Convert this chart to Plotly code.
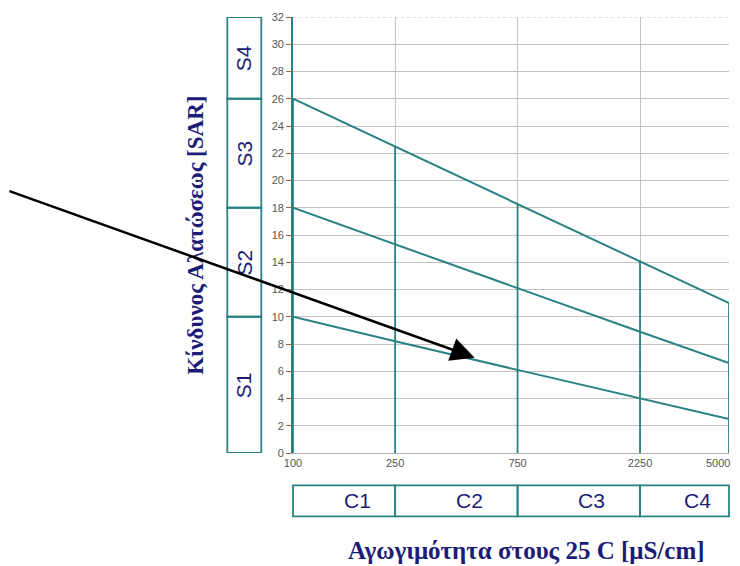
import numpy as np
import plotly.graph_objects as go

# ---- data ----
conductivity = [100, 250, 750, 2250, 5000]          # x tick values (log axis)
x_tick_labels = ["100", "250", "750", "2250", "5000"]
sar_upper = [26.0, 22.5, 18.3, 14.1, 11.0]            # S3/S4 boundary
sar_middle = [18.0, 15.3, 12.1, 8.9, 6.6]             # S2/S3 boundary
sar_lower = [10.0, 8.2, 6.1, 4.0, 2.5]                # S1/S2 boundary
s_classes = ["S1", "S2", "S3", "S4"]
s_bounds = [0, 10, 18, 26, 32]
c_classes = ["C1", "C2", "C3", "C4"]
y_title = "Κίνδυνος Αλατώσεως [SAR]"
x_title = "Αγωγιμότητα στους 25 C [μS/cm]"
arrow_head = (510, 7.0)

TEAL = "#2a8282"
NAVY = "#1c1c78"
GRID = "#c4c4c4"
TICKFONT = dict(family="Liberation Sans, Arial", size=11, color="#555555")

fig = go.Figure()

for xv, top in zip(conductivity, sar_upper):
    fig.add_trace(go.Scatter(x=[xv, xv], y=[0, top], mode="lines",
                             line=dict(color=TEAL, width=1.8), hoverinfo="skip"))

for series in (sar_upper, sar_middle, sar_lower):
    fig.add_trace(go.Scatter(x=conductivity, y=series, mode="lines",
                             line=dict(color=TEAL, width=2), hoverinfo="skip"))

lx = np.log10(conductivity)
frac = (lx - lx[0]) / (lx[-1] - lx[0])

shapes = []
shapes.append(dict(type="line", xref="paper", yref="y", x0=0, x1=1, y0=32, y1=32,
                   line=dict(color="#bdbdbd", width=1, dash="dot")))
for b0, b1 in zip(s_bounds[:-1], s_bounds[1:]):
    shapes.append(dict(type="rect", xref="paper", yref="y", x0=-0.1507, x1=-0.0727,
                       y0=b0, y1=b1, line=dict(color=TEAL, width=1.8)))
for a, b in zip(frac[:-1], frac[1:]):
    shapes.append(dict(type="rect", xref="paper", yref="paper", x0=a, x1=b,
                       y0=-0.1454, y1=-0.0742, line=dict(color=TEAL, width=1.8)))

annotations = []
for name, b0, b1 in zip(s_classes, s_bounds[:-1], s_bounds[1:]):
    annotations.append(dict(text=name, xref="paper", yref="y", x=-0.1117, y=(b0 + b1) / 2,
                            xanchor="center", yanchor="middle",
                            showarrow=False, textangle=-90,
                            font=dict(family="Liberation Sans, Arial", size=21, color=NAVY)))
for name, a, b in zip(c_classes, frac[:-1], frac[1:]):
    annotations.append(dict(text=name, xref="paper", yref="paper", x=(a + b) / 2, y=-0.1085,
                            xanchor="center", yanchor="middle",
                            xshift=13, showarrow=False,
                            font=dict(family="Liberation Sans, Arial", size=21, color=NAVY)))
# last x tick label kept inside the visible page (right-aligned at its tick)
annotations.append(dict(text=x_tick_labels[-1], xref="x", yref="paper", x=lx[-1], y=-0.0236,
                        xanchor="right", yanchor="middle", xshift=3, showarrow=False,
                        font=TICKFONT))
annotations.append(dict(text="<b>" + y_title + "</b>", xref="paper", yref="paper",
                        x=-0.224, y=0.499, xanchor="center", yanchor="middle",
                        showarrow=False, textangle=-90,
                        font=dict(family="Liberation Serif, Times New Roman", size=23, color=NAVY)))
annotations.append(dict(text="<b>" + x_title + "</b>", xref="paper", yref="paper",
                        x=0.535, y=-0.2232, xanchor="center", yanchor="middle",
                        showarrow=False,
                        font=dict(family="Liberation Serif, Times New Roman", size=25, color=NAVY)))
annotations.append(dict(text="", x=np.log10(arrow_head[0]), y=arrow_head[1], xref="x", yref="y",
                        showarrow=True, ax=-467, ay=-167, arrowcolor="black",
                        arrowwidth=2.5, arrowhead=2, arrowsize=1.9))

fig.update_layout(
    width=732, height=558,
    margin=dict(l=285, r=11, t=9, b=113),
    paper_bgcolor="white", plot_bgcolor="white",
    showlegend=False,
    shapes=shapes, annotations=annotations,
    xaxis=dict(type="log", range=[lx[0], lx[-1]],
               tickvals=conductivity[:-1], ticktext=x_tick_labels[:-1],
               showgrid=True, gridcolor=GRID, gridwidth=1,
               showline=True, linecolor="#b0b0b0", linewidth=1,
               ticks="", zeroline=False, automargin=False,
               tickfont=TICKFONT),
    yaxis=dict(range=[0, 32], dtick=2, tick0=0,
               showgrid=True, gridcolor=GRID, gridwidth=1,
               showline=True, linecolor=TEAL, linewidth=1.8,
               ticks="outside", ticklen=5, tickcolor="#b06040", tickwidth=1,
               zeroline=False, automargin=False,
               ticklabeloverflow="allow",
               tickfont=TICKFONT),
)

fig.write_html("out.html")
